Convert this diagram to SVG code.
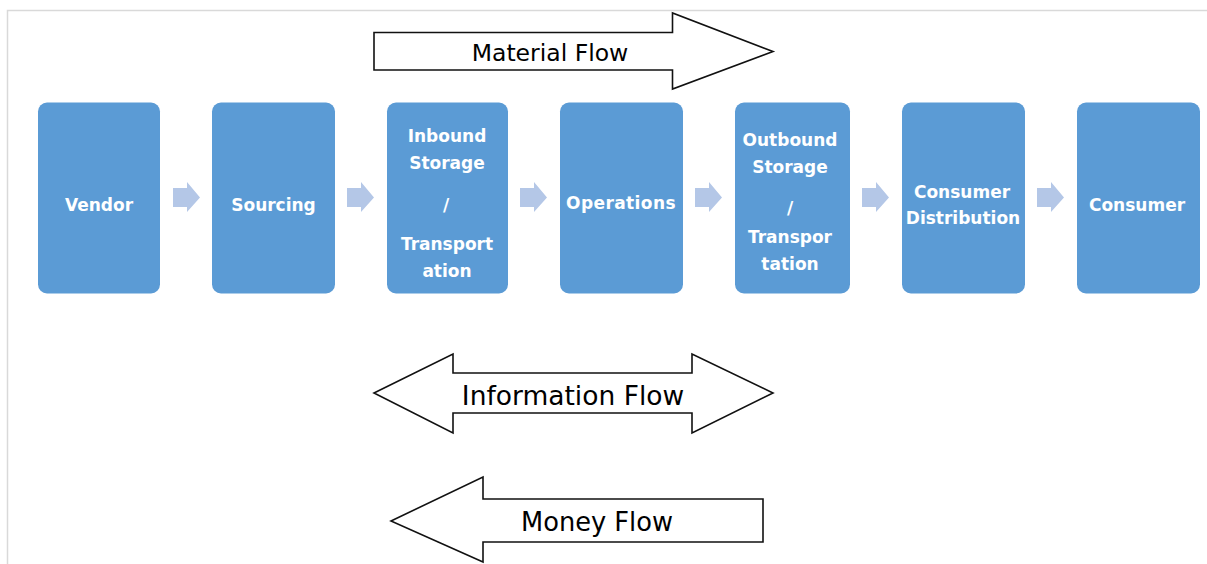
<svg xmlns="http://www.w3.org/2000/svg" width="1207" height="564" viewBox="0 0 1207 564">
<style>
.box{fill:#5B9BD5}
.chev{fill:#B4C7E7}
.big{fill:#fff;stroke:#111;stroke-width:1.6;stroke-linejoin:miter}
.bt{font-family:"DejaVu Sans",Verdana,sans-serif;font-weight:bold;fill:#fff;text-anchor:middle;font-size:17px}
.lbl{font-family:"DejaVu Sans",Verdana,sans-serif;fill:#000;text-anchor:middle}
</style>
<rect x="0" y="0" width="1207" height="564" fill="#fff"/>
<rect x="7.5" y="10.5" width="1210" height="570" fill="none" stroke="#d9d9d9" stroke-width="1.5"/>

<g id="connectors">
<path class="chev" d="M173,188 H187 V182 L200,197.5 L187,212 V207 H173 Z"/>
<path class="chev" d="M347,188 H361 V182 L374,197.5 L361,212 V207 H347 Z"/>
<path class="chev" d="M520,188 H534 V182 L547,197.5 L534,212 V207 H520 Z"/>
<path class="chev" d="M695,188 H709 V182 L722,197.5 L709,212 V207 H695 Z"/>
<path class="chev" d="M862,188 H876 V182 L889,197.5 L876,212 V207 H862 Z"/>
<path class="chev" d="M1037,188 H1051 V182 L1064,197.5 L1051,212 V207 H1037 Z"/>
</g>

<g id="material-flow">
<path class="big" d="M374,32.5 H672.5 V13 L773,51.5 L672.5,89 V70 H374 Z"/>
<text class="lbl" x="550" y="61" font-size="23.5">Material Flow</text>
</g>

<g id="information-flow">
<path class="big" d="M374,393 L453,354 V373 H692 V354 L773,393 L692,433 V413 H453 V433 Z"/>
<text class="lbl" x="573" y="405" font-size="26.5">Information Flow</text>
</g>

<g id="money-flow">
<path class="big" d="M391,521 L483,477 V499 H763 V542 H483 V562 Z"/>
<text class="lbl" x="597" y="531" font-size="25.7">Money Flow</text>
</g>

<g id="vendor">
<rect class="box" x="38" y="102.5" width="122" height="191" rx="9"/>
<text class="bt" x="99" y="211">Vendor</text>
</g>
<g id="sourcing">
<rect class="box" x="212" y="102.5" width="123" height="191" rx="9"/>
<text class="bt" x="273.5" y="211">Sourcing</text>
</g>
<g id="inbound">
<rect class="box" x="387" y="102.5" width="121" height="191" rx="9"/>
<text class="bt" x="447" y="142">Inbound</text>
<text class="bt" x="447" y="169">Storage</text>
<text class="bt" x="446" y="211">/</text>
<text class="bt" x="447" y="250">Transport</text>
<text class="bt" x="447" y="277">ation</text>
</g>
<g id="operations">
<rect class="box" x="560" y="102.5" width="123" height="191" rx="9"/>
<text class="bt" x="621" y="209" font-size="13" letter-spacing="0.4">Operations</text>
</g>
<g id="outbound">
<rect class="box" x="735" y="102.5" width="115" height="191" rx="9"/>
<text class="bt" x="790" y="146" font-size="13.4">Outbound</text>
<text class="bt" x="790" y="173">Storage</text>
<text class="bt" x="790" y="214">/</text>
<text class="bt" x="790" y="243">Transpor</text>
<text class="bt" x="790" y="270">tation</text>
</g>
<g id="consumer-distribution">
<rect class="box" x="902" y="102.5" width="123" height="191" rx="9"/>
<text class="bt" x="962" y="198">Consumer</text>
<text class="bt" x="963" y="224" font-size="12">Distribution</text>
</g>
<g id="consumer">
<rect class="box" x="1077" y="102.5" width="123" height="191" rx="9"/>
<text class="bt" x="1137" y="211">Consumer</text>
</g>
</svg>
